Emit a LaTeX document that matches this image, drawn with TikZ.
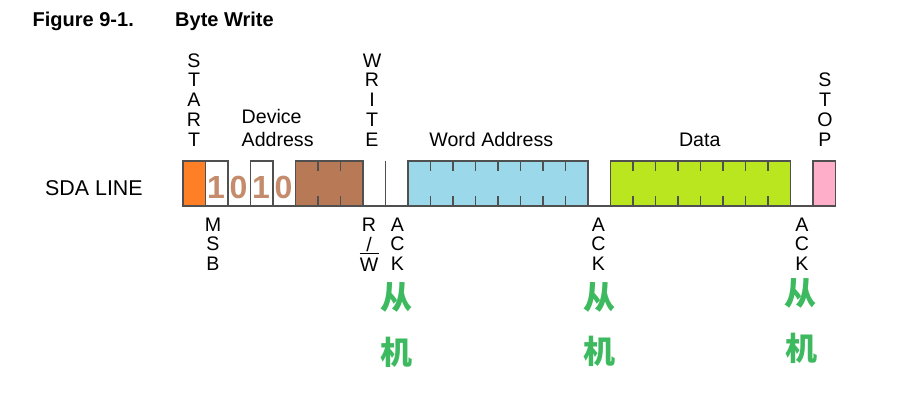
\documentclass[tikz,border=0pt]{standalone}
\usepackage{fontspec}
\setmainfont{Liberation Sans}
\newfontfamily\cjk{Noto Sans CJK SC}
\definecolor{orangeC}{RGB}{255,127,39}
\definecolor{brownC}{RGB}{184,121,86}
\definecolor{blueC}{RGB}{155,216,234}
\definecolor{greenC}{RGB}{185,230,30}
\definecolor{pinkC}{RGB}{255,174,201}
\definecolor{digitC}{RGB}{196,140,108}
\definecolor{cjkGreen}{RGB}{61,186,95}
\definecolor{lineC}{RGB}{80,80,80}
\begin{document}
\begin{tikzpicture}[x=1pt,y=-1pt,
  sig/.style={draw=lineC, line width=1.4pt},
  tickmark/.style={draw=lineC, line width=1.2pt},
  lbl/.style={font=\fontsize{19.6}{19.8}\selectfont, inner sep=0pt, text depth=0pt},
  digit/.style={font=\bfseries\fontsize{32}{32}\selectfont, text=digitC, inner sep=0pt},
  cn/.style={font=\cjk\bfseries\fontsize{32}{32}\selectfont, text=cjkGreen, inner sep=0pt},
  ttl/.style={font=\bfseries\fontsize{20}{20}\selectfont, inner sep=0pt, anchor=base west}]
\fill[white] (0,0) rectangle (913,419);
\useasboundingbox (0,0) rectangle (913,419);

% title
\node[ttl] (fig) at (32.5,27) {Figure 9-1.};
\node[ttl] (bw) at (175,27) {Byte Write};

% waveform
\draw[sig, fill=orangeC] (183,161) rectangle (205.5,206);
\draw[sig] (205.5,161) -- (228,161) -- (228,206);
\draw[sig] (250.5,206) -- (250.5,161) -- (273,161) -- (273,206);
\draw[sig, fill=brownC] (295.5,161) rectangle (363,206);
\foreach \x in {318,340.5} \draw[tickmark] (\x,161) -- ++(0,10) (\x,206) -- ++(0,-10);
\draw[sig] (385.5,161) -- (385.5,206);
\draw[sig, fill=blueC] (408,161) rectangle (588,206);
\foreach \x in {430.5,453,475.5,498,520.5,543,565.5} \draw[tickmark] (\x,161) -- ++(0,10) (\x,206) -- ++(0,-10);
\draw[sig, fill=greenC] (610.5,161) rectangle (790.5,206);
\foreach \x in {633,655.5,678,700.5,723,745.5,768} \draw[tickmark] (\x,161) -- ++(0,10) (\x,206) -- ++(0,-10);
\draw[sig, fill=pinkC] (813,161) rectangle (835.5,206);
\draw[sig] (183,206) -- (835.5,206);

% digits
\node[digit, anchor=base] (d1) at (216,198.5) {1};
\node[digit, anchor=base] (d2) at (238.5,198.5) {0};
\node[digit, anchor=base] (d3) at (261,198.5) {1};
\node[digit, anchor=base] (d4) at (283.5,198.5) {0};

% labels above
\node[lbl, align=center, anchor=south] (start) at (194,146.5) {S\\T\\A\\R\\T};
\node[lbl, font=\fontsize{19.6}{22.7}\selectfont, align=left, anchor=south west] (devaddr) at (241.5,146.5) {Device\\Address};
\node[lbl, align=center, anchor=south] (write) at (372,146.5) {W\\R\\I\\T\\E};
\node[lbl, anchor=base] (word) at (491.3,146.5) {Word Address};
\node[lbl, anchor=base] (data) at (699.7,146.5) {Data};
\node[lbl, align=center, anchor=south] (stop) at (825,146.5) {S\\T\\O\\P};
\node[font=\fontsize{21.4}{22}\selectfont, inner sep=0pt, anchor=base west] (sda) at (45,196) {SDA LINE};

% labels below
\node[lbl, align=center, anchor=south] (msb) at (213,271) {M\\S\\B};
\node[lbl, align=center, anchor=south] (rw) at (369,271.5) {R\\/\\W};
\draw[line width=1.3pt] (359.5,253.5) -- (379,253.5);
\node[lbl, align=center, anchor=south] (ack1) at (397.5,271) {A\\C\\K};
\node[lbl, align=center, anchor=south] (ack2) at (598.5,271) {A\\C\\K};
\node[lbl, align=center, anchor=south] (ack3) at (802,271) {A\\C\\K};

% chinese
\node[cn] (c1a) at (396,297) {从};
\node[cn] (c1b) at (396,352) {机};
\node[cn] (c2a) at (599,297) {从};
\node[cn] (c2b) at (599,351) {机};
\node[cn] (c3a) at (800.5,293) {从};
\node[cn] (c3b) at (801,348) {机};
\end{tikzpicture}
\end{document}
